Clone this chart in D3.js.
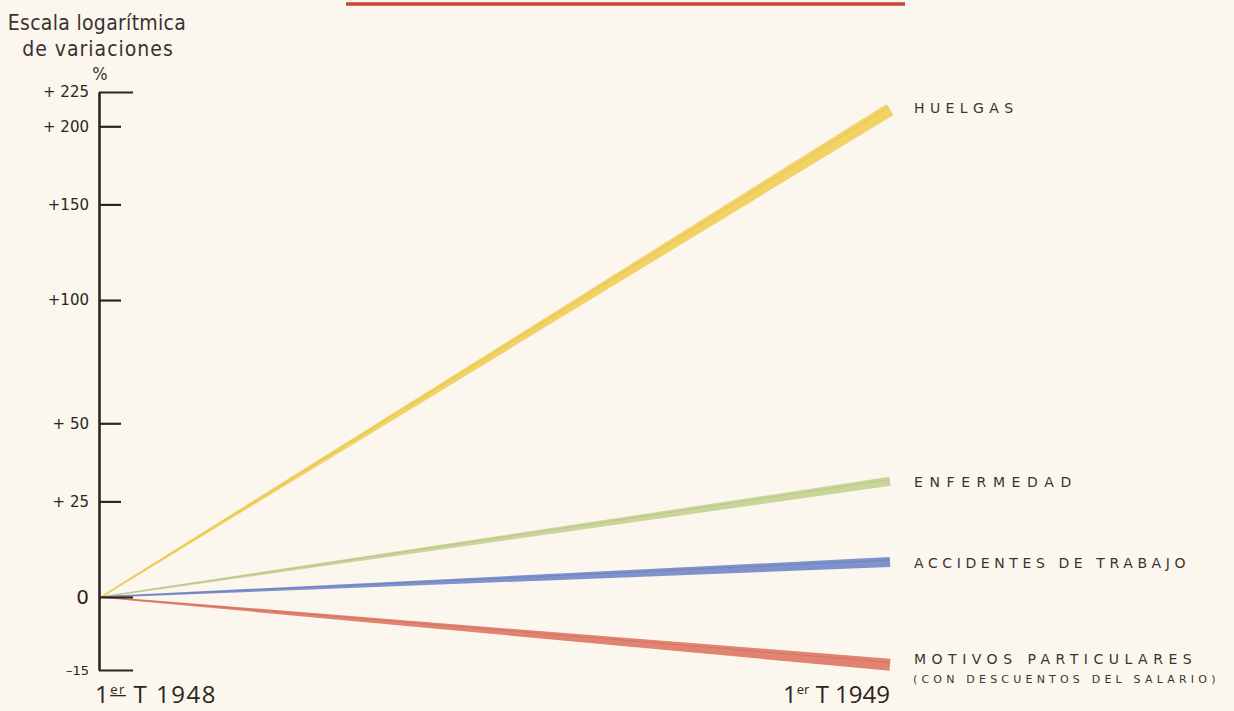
<!DOCTYPE html>
<html>
<head>
<meta charset="utf-8">
<script src="https://cdn.jsdelivr.net/npm/d3@7"></script>
<style>
  html, body { margin: 0; padding: 0; background: #fcf7ee; }
  svg { display: block; }
</style>
</head>
<body>
<svg id="chart" width="1234" height="711"></svg>
<script>
// ---- data ----
const periods = ["1948", "1949"];
const seriesNames = ["HUELGAS", "ENFERMEDAD", "ACCIDENTES DE TRABAJO", "MOTIVOS PARTICULARES"];
const seriesSub = ["", "", "", "(CON DESCUENTOS DEL SALARIO)"];
const startValues = [0, 0, 0, 0];
const endValues = [212, 31, 8.5, -14];
const seriesColors = ["#f1cb4c", "#bfcf8a", "#6980c6", "#dc6f5a"];
const tickValues = [-15, 0, 25, 50, 100, 150, 200, 225];
const tickLabels = ["\u201315", "0", "+ 25", "+ 50", "+100", "+150", "+ 200", "+ 225"];
const axisTitle = ["Escala logar\u00edtmica", "de variaciones", "%"];

// ---- scales ----
const svg = d3.select("#chart");
const W = 1234, H = 711;
svg.append("rect").attr("width", W).attr("height", H).attr("fill", "#fcf7ee");

const x = d3.scalePoint().domain(periods).range([101, 890]);
const y = d3.scaleLog().domain([0.85, 1, 3.25]).range([670, 597, 92]);
const yv = v => y(1 + v / 100);

// top decorative title rule (cropped in the original)
svg.append("line")
  .attr("x1", 346).attr("x2", 905).attr("y1", 4).attr("y2", 4)
  .attr("stroke", "#c4473a").attr("stroke-width", 3.5);

// ---- series wedges ----
const startW = [1.5, 1.5, 1.5, 1.5];
const endW = [13, 9, 10, 12];
seriesNames.forEach((name, i) => {
  const x0 = x(periods[0]), x1 = x(periods[1]);
  const y0 = yv(startValues[i]), y1 = yv(endValues[i]);
  const dx = x1 - x0, dy = y1 - y0, len = Math.hypot(dx, dy);
  const nx = -dy / len, ny = dx / len;
  const pts = [
    [x0 + nx * startW[i] / 2, y0 + ny * startW[i] / 2],
    [x1 + nx * endW[i] / 2, y1 + ny * endW[i] / 2],
    [x1 - nx * endW[i] / 2, y1 - ny * endW[i] / 2],
    [x0 - nx * startW[i] / 2, y0 - ny * startW[i] / 2]
  ];
  svg.append("path")
    .attr("d", d3.line()(pts) + "Z")
    .attr("fill", seriesColors[i])
    .attr("opacity", 0.85);
  svg.append("line")
    .attr("x1", x0).attr("y1", y0).attr("x2", x1 - nx * endW[i] * 0.2).attr("y2", y1 - ny * endW[i] * 0.2)
    .attr("stroke", d3.color(seriesColors[i]).darker(0.4)).attr("stroke-width", 1).attr("opacity", 0.4);
});

// ---- y axis ----
const axis = d3.axisLeft(y)
  .tickValues(tickValues.map(v => 1 + v / 100))
  .tickFormat((d, i) => tickLabels[i])
  .tickSizeInner(-22)
  .tickSizeOuter(0)
  .tickPadding(10);

const gAxis = svg.append("g")
  .attr("transform", "translate(99,0)")
  .call(axis);
gAxis.select(".domain").attr("stroke", "#2b2421").attr("stroke-width", 2.6);
gAxis.selectAll(".tick line")
  .attr("stroke", "#2b2421").attr("stroke-width", 2.2)
  .attr("x2", (d, i) => (i === 0 || i === tickValues.length - 1 || tickValues[i] === 0) ? 34 : 22);
gAxis.selectAll(".tick text")
  .attr("fill", "#2b2421")
  .style("font-family", "'DejaVu Sans', sans-serif")
  .style("font-size", (d, i) => tickValues[i] === 0 ? "20px" : (tickValues[i] === -15 ? "13px" : "15px"));

// axis title
const titleY = [30, 56, 80];
const titleX = [97, 98, 100];
axisTitle.forEach((t, i) => {
  svg.append("text")
    .attr("x", titleX[i]).attr("y", titleY[i])
    .attr("text-anchor", "middle")
    .attr("fill", "#3a3230")
    .style("font-family", "'Liberation Sans Narrow', 'DejaVu Sans Condensed', sans-serif")
    .style("font-size", i === 2 ? "18px" : "21px")
    .style("letter-spacing", i === 1 ? "1px" : "0.3px")
    .text(t);
});

// ---- x labels ----
periods.forEach((p, i) => {
  const t = svg.append("text")
    .attr("x", i === 0 ? 95 : x(p))
    .attr("y", 703)
    .attr("text-anchor", i === 0 ? "start" : "end")
    .attr("fill", "#2b2421")
    .style("font-family", "'Open Sans', sans-serif")
    .style("font-size", "24px")
    .style("letter-spacing", i === 0 ? "1.5px" : "0px");
  t.append("tspan").text("1");
  t.append("tspan").attr("dy", -9).style("font-size", "13px")
    .style("text-decoration", i === 0 ? "underline" : "none").text("er");
  t.append("tspan").attr("dy", 9).text(" T " + p);
});

// ---- series labels ----
const labelDy = [4, 6, 6, -1];
const labelSpacing = [5.4, 6.6, 4.6, 5.5];
seriesNames.forEach((name, i) => {
  svg.append("text")
    .attr("x", 914)
    .attr("y", yv(endValues[i]) + labelDy[i])
    .attr("fill", "#3a3432")
    .style("font-family", "'DejaVu Sans', sans-serif")
    .style("font-size", "14px")
    .style("letter-spacing", labelSpacing[i] + "px")
    .text(name);
  if (seriesSub[i]) {
    svg.append("text")
      .attr("x", 913)
      .attr("y", yv(endValues[i]) + 18)
      .attr("fill", "#3a3432")
      .style("font-family", "'DejaVu Sans', sans-serif")
      .style("font-size", "11px")
      .style("letter-spacing", "4.2px")
      .text(seriesSub[i]);
  }
});
</script>
</body>
</html>
